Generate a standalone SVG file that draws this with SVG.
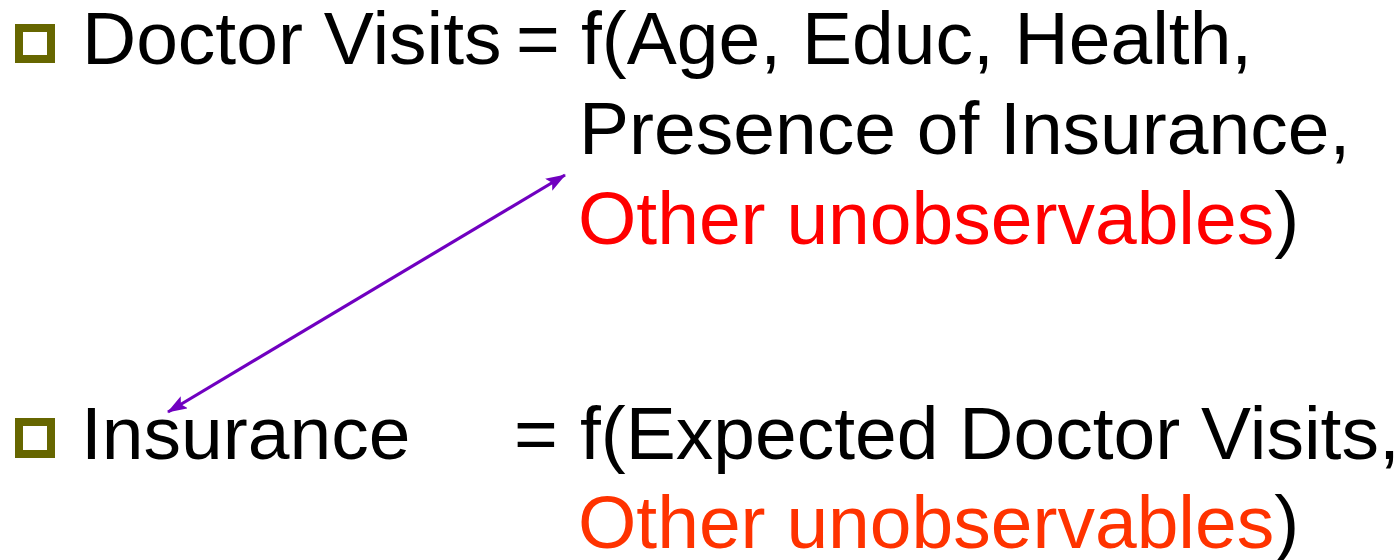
<svg xmlns="http://www.w3.org/2000/svg" width="1398" height="560" viewBox="0 0 1398 560">
  <style>
    text { font-family: "Liberation Sans", Arial, sans-serif; font-size: 75px; fill: #000000; }
    .red { fill: #FF0000; }
    .orange { fill: #FF3300; }
    .bullet { fill: none; stroke: #666600; stroke-width: 8; }
    .conn { stroke: #7000C0; stroke-width: 3.2; fill: none; }
  </style>
  <defs>
    <marker id="ah" viewBox="0 0 20 14" refX="19" refY="7" markerWidth="20" markerHeight="14" markerUnits="userSpaceOnUse" orient="auto-start-reverse">
      <path d="M0,0 L20,7 L0,14 L4,7 z" fill="#7000C0"/>
    </marker>
  </defs>
  <rect width="1398" height="560" fill="#ffffff"/>

  <g id="doctor-visits">
    <rect class="bullet" x="19" y="28" width="32" height="31"/>
    <text x="82" y="64">Doctor Visits</text>
    <text x="516" y="64">=</text>
    <text x="581" y="64">f(Age, Educ, Health,</text>
    <text x="579" y="154">Presence of Insurance,</text>
    <text x="578" y="244"><tspan class="red">Other unobservables</tspan>)</text>
  </g>

  <g id="insurance">
    <rect class="bullet" x="19" y="422" width="32" height="32"/>
    <text x="81" y="459">Insurance</text>
    <text x="514" y="459">=</text>
    <text x="580" y="459">f(Expected Doctor Visits,</text>
    <text x="578" y="548"><tspan class="orange">Other unobservables</tspan>)</text>
  </g>

  <g id="connectors">
    <line class="conn" x1="168" y1="412" x2="565" y2="175" marker-start="url(#ah)" marker-end="url(#ah)"/>
  </g>
</svg>
